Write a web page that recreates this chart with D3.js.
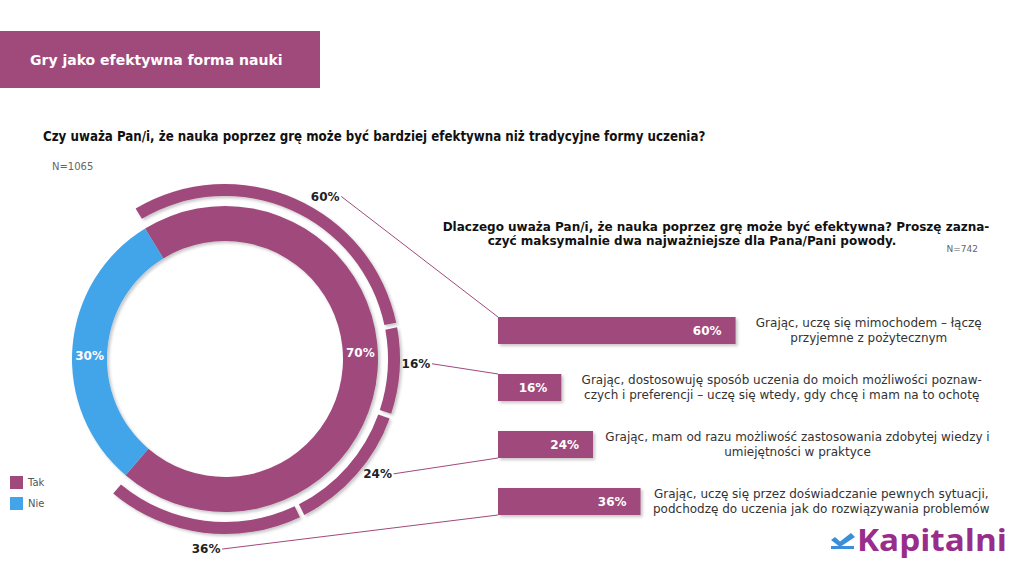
<!DOCTYPE html>
<html><head><meta charset="utf-8">
<script src="https://cdn.jsdelivr.net/npm/d3@7"></script>
<style>body{margin:0;background:#fff;} svg{display:block;}</style>
</head><body>
<script>
// ---------- DATA ----------
const titleText = "Gry jako efektywna forma nauki";
const question1 = "Czy uważa Pan/i, że nauka poprzez grę może być bardziej efektywna niż tradycyjne formy uczenia?";
const sample1 = "N=1065";
const question2Lines = [
  "Dlaczego uważa Pan/i, że nauka poprzez grę może być efektywna? Proszę zazna-",
  "czyć maksymalnie dwa najważniejsze dla Pana/Pani powody."
];
const sample2 = "N=742";
const donutCategories = ["Tak", "Nie"];
const donutValues = [70, 30];
const reasonValues = [60, 16, 24, 36];
const reasonLabels = [
  ["Grając, uczę się mimochodem – łączę", "przyjemne z pożytecznym"],
  ["Grając, dostosowuję sposób uczenia do moich możliwości poznaw-", "czych i preferencji – uczę się wtedy, gdy chcę i mam na to ochotę"],
  ["Grając, mam od razu możliwość zastosowania zdobytej wiedzy i", "umiejętności w praktyce"],
  ["Grając, uczę się przez doświadczanie pewnych sytuacji,", "podchodzę do uczenia jak do rozwiązywania problemów"]
];
const logoText = "Kapitalni";

// ---------- LAYOUT / STYLE ----------
const W = 1024, H = 576;
const PURPLE = "#A0497B", BLUE = "#43A4E9", LOGO = "#982D8C", LOGO_BLUE = "#3B8FD8";
const FONT = "Verdana, 'DejaVu Sans', sans-serif";
const cx = 225, cy = 359;
const rIn = 118, rOut = 153, rArcIn = 163, rArcOut = 175, rLabel = 191;
const startDeg = -31.5;
const innerLabelNudgeDeg = [-7, -3];
const outerLabelNudgeDeg = [8, -2.5, -4.5, -1.5];

const svg = d3.select("body").append("svg").attr("width", W).attr("height", H);
const defs = svg.append("defs");
const f = defs.append("filter").attr("id", "sh").attr("x", "-20%").attr("y", "-20%").attr("width", "140%").attr("height", "140%");
f.append("feDropShadow").attr("dx", 2).attr("dy", 2).attr("stdDeviation", 1.8)
  .attr("flood-color", "#000").attr("flood-opacity", 0.22);

// Title box
svg.append("rect").attr("x", 0).attr("y", 31).attr("width", 320).attr("height", 57).attr("fill", PURPLE);
svg.append("text").attr("x", 30).attr("y", 65).text(titleText)
  .attr("font-family", FONT).attr("font-weight", "bold").attr("font-size", 14).attr("fill", "#fff");

// Question 1
svg.append("text").attr("x", 43).attr("y", 141).text(question1)
  .attr("font-family", "'DejaVu Sans Condensed', 'DejaVu Sans', sans-serif").attr("font-stretch", "condensed")
  .attr("font-weight", "bold").attr("font-size", 13.2).attr("fill", "#111");
svg.append("text").attr("x", 52).attr("y", 170).text(sample1)
  .attr("font-family", FONT).attr("font-size", 10).attr("fill", "#666");

// Donut
const startA = startDeg * Math.PI / 180;
const pie = d3.pie().sort(null).startAngle(startA).endAngle(startA + 2 * Math.PI);
const donut = pie(donutValues);
const arcMain = d3.arc().innerRadius(rIn).outerRadius(rOut);
const color = d3.scaleOrdinal().domain(donutCategories).range([PURPLE, BLUE]);
const g = svg.append("g").attr("transform", `translate(${cx},${cy})`);
g.append("g").attr("filter", "url(#sh)").selectAll("path").data(donut).join("path")
  .attr("d", arcMain).attr("fill", (d, i) => color(donutCategories[i]));
const rMid = (rIn + rOut) / 2;
g.selectAll("text.in").data(donut).join("text").attr("class", "in")
  .attr("transform", (d, i) => {
    const a = (d.startAngle + d.endAngle) / 2 + innerLabelNudgeDeg[i] * Math.PI / 180;
    return `translate(${rMid * Math.sin(a)},${-rMid * Math.cos(a)})`;
  })
  .attr("text-anchor", "middle").attr("dy", "0.35em")
  .attr("font-family", FONT).attr("font-weight", "bold").attr("font-size", 12).attr("fill", "#fff")
  .text(d => d.data + "%");

// Outer arcs (breakdown of "Tak")
const tak = donut[0];
const pieOuter = d3.pie().sort(null).startAngle(tak.startAngle).endAngle(tak.endAngle).padAngle(0.02);
const outer = pieOuter(reasonValues);
const arcOuter = d3.arc().innerRadius(rArcIn).outerRadius(rArcOut);
g.append("g").attr("filter", "url(#sh)").selectAll("path").data(outer).join("path")
  .attr("d", arcOuter).attr("fill", PURPLE);

// Bars
const x = d3.scaleLinear().domain([0, 100]).range([498, 894]);
const y = d3.scaleBand().domain(d3.range(reasonValues.length)).range([317, 515]).paddingInner(0.526).paddingOuter(0);

// Outer labels and leader lines
const labelPos = outer.map((d, i) => {
  const a = (d.startAngle + d.endAngle) / 2 + outerLabelNudgeDeg[i] * Math.PI / 180;
  return [cx + rLabel * Math.sin(a), cy - rLabel * Math.cos(a)];
});
svg.append("g").selectAll("line").data(outer).join("line")
  .attr("x1", (d, i) => labelPos[i][0] + 16).attr("y1", (d, i) => labelPos[i][1])
  .attr("x2", x(0))
  .attr("y2", (d, i) => labelPos[i][1] < y(i) ? y(i) : y(i) + y.bandwidth())
  .attr("stroke", PURPLE).attr("stroke-width", 1);
svg.append("g").selectAll("text").data(outer).join("text")
  .attr("x", (d, i) => labelPos[i][0]).attr("y", (d, i) => labelPos[i][1])
  .attr("text-anchor", "middle").attr("dy", "0.35em")
  .attr("font-family", FONT).attr("font-weight", "bold").attr("font-size", 12).attr("fill", "#222")
  .text(d => d.data + "%");

svg.append("g").attr("filter", "url(#sh)").selectAll("rect").data(reasonValues).join("rect")
  .attr("x", x(0)).attr("y", (d, i) => y(i)).attr("width", d => x(d) - x(0)).attr("height", y.bandwidth())
  .attr("fill", PURPLE);
svg.append("g").selectAll("text").data(reasonValues).join("text")
  .attr("x", d => x(d) - 14).attr("y", (d, i) => y(i) + y.bandwidth() / 2).attr("dy", "0.35em")
  .attr("text-anchor", "end").attr("font-family", FONT).attr("font-weight", "bold").attr("font-size", 12)
  .attr("fill", "#fff").text(d => d + "%");

// Category texts
const cat = svg.append("g").selectAll("text").data(reasonLabels).join("text")
  .attr("text-anchor", "middle").attr("font-family", FONT).attr("font-size", 12).attr("fill", "#333")
  .attr("x", (d, i) => (x(reasonValues[i]) + 1002) / 2)
  .attr("y", (d, i) => y(i) + y.bandwidth() / 2 - 7);
cat.selectAll("tspan").data(d => d).join("tspan")
  .attr("x", function () { return d3.select(this.parentNode).attr("x"); })
  .attr("dy", (d, j) => j === 0 ? "0.3em" : "14.5px").text(d => d);

// Question 2
svg.append("text").attr("x", 716).attr("y", 231).attr("text-anchor", "middle").text(question2Lines[0])
  .attr("font-family", FONT).attr("font-weight", "bold").attr("font-size", 12).attr("fill", "#111");
svg.append("text").attr("x", 692).attr("y", 245).attr("text-anchor", "middle").text(question2Lines[1])
  .attr("font-family", FONT).attr("font-weight", "bold").attr("font-size", 12).attr("fill", "#111");
svg.append("text").attr("x", 978).attr("y", 252).attr("text-anchor", "end").text(sample2)
  .attr("font-family", FONT).attr("font-size", 9).attr("fill", "#666");

// Legend
const leg = svg.append("g").selectAll("g").data(donutCategories).join("g")
  .attr("transform", (d, i) => `translate(10,${476 + i * 21})`);
leg.append("rect").attr("width", 13).attr("height", 13).attr("fill", d => color(d));
leg.append("text").attr("x", 18).attr("y", 6.5).attr("dy", "0.35em").text(d => d)
  .attr("font-family", FONT).attr("font-size", 10).attr("fill", "#555");

// Logo
const lg = svg.append("g");
lg.append("rect").attr("x", 831).attr("y", 546).attr("width", 23).attr("height", 3).attr("fill", LOGO_BLUE);
lg.append("path").attr("d", "M831,540 L835,537 L840,541.5 L851,533 L855,537 L840,547 Z").attr("fill", LOGO_BLUE);
lg.append("text").attr("x", 857).attr("y", 551).text(logoText)
  .attr("font-family", "'Open Sans', sans-serif").attr("font-weight", 700).attr("font-size", 30)
  .attr("textLength", 150).attr("lengthAdjust", "spacingAndGlyphs").attr("fill", LOGO);
</script>
</body></html>
